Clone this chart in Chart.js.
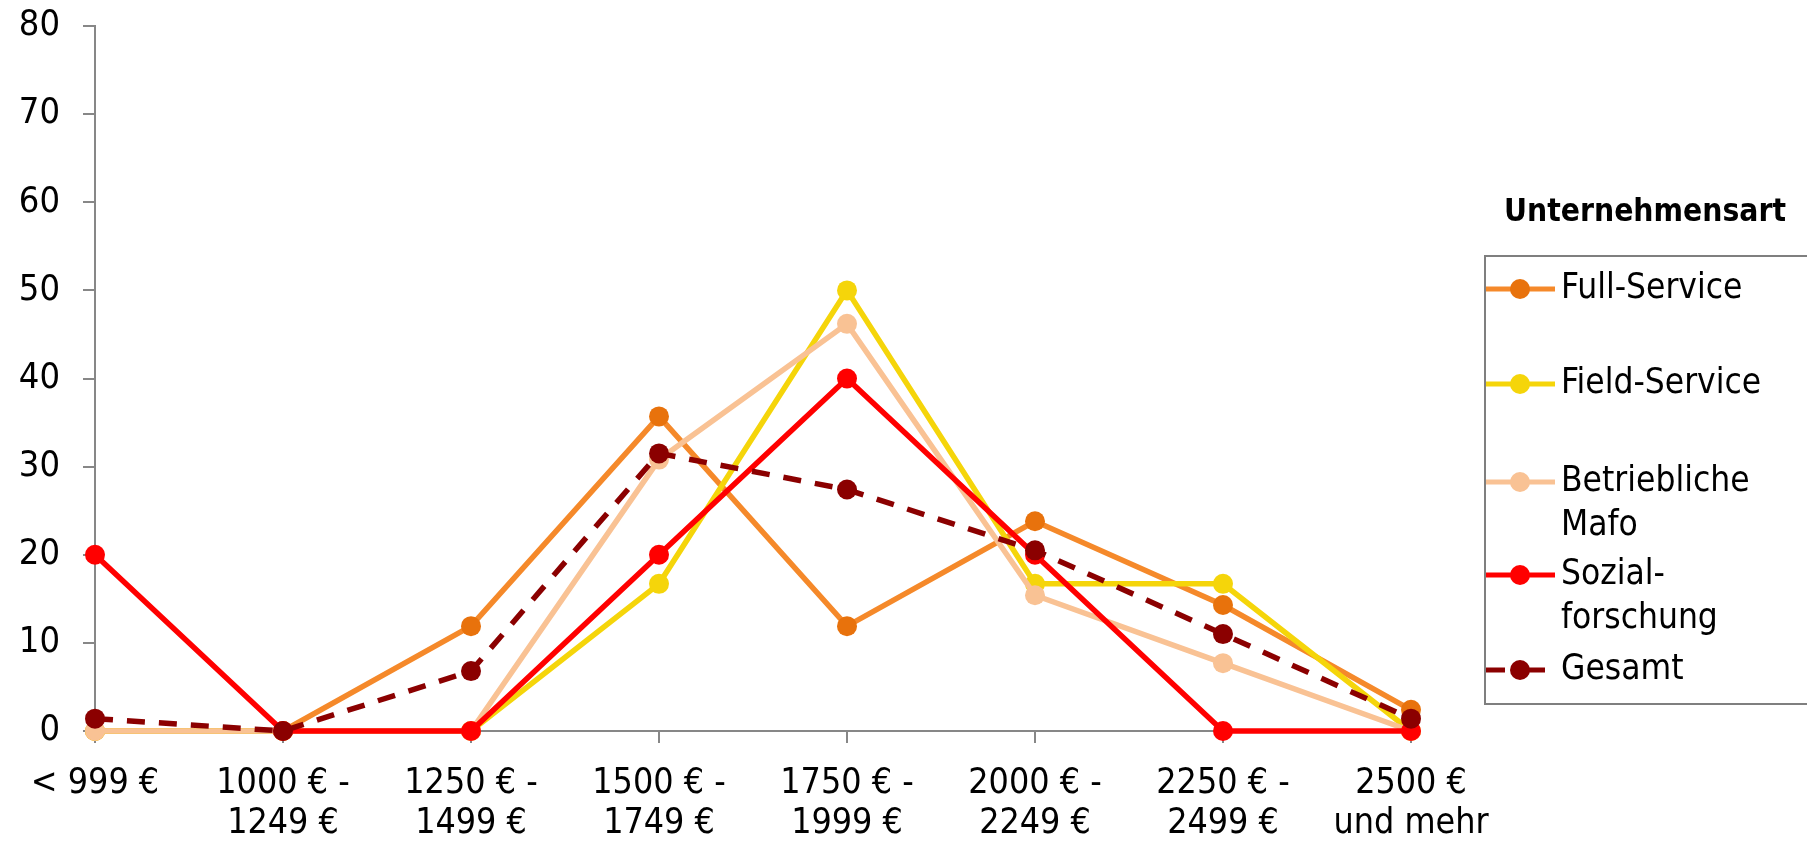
<!DOCTYPE html>
<html>
<head>
<meta charset="utf-8">
<script src="https://cdn.jsdelivr.net/npm/chart.js@4/dist/chart.umd.min.js"></script>
<style>
  html, body { margin: 0; padding: 0; background: #fff; }
  #c { display: block; }
</style>
</head>
<body>
<canvas id="c" width="1807" height="842"></canvas>
<script>
// Income brackets (x axis)
const categories = [
  ["< 999 €"],
  ["1000 € -", "1249 €"],
  ["1250 € -", "1499 €"],
  ["1500 € -", "1749 €"],
  ["1750 € -", "1999 €"],
  ["2000 € -", "2249 €"],
  ["2250 € -", "2499 €"],
  ["2500 €", "und mehr"]
];

// Share of respondents per bracket, in percent
const fullService      = [0, 0, 11.9, 35.7, 11.9, 23.8, 14.3, 2.4];
const fieldService     = [0, 0, 0, 16.7, 50.0, 16.7, 16.7, 0];
const betrieblicheMafo = [0, 0, 0, 30.8, 46.2, 15.4, 7.7, 0];
const sozialforschung  = [20, 0, 0, 20, 40, 20, 0, 0];
const gesamt           = [1.4, 0, 6.8, 31.5, 27.4, 20.5, 11.0, 1.4];

// Legend
const legendTitle = "Unternehmensart";
const seriesNames = [
  ["Full-Service"],
  ["Field-Service"],
  ["Betriebliche", "Mafo"],
  ["Sozial-", "forschung"],
  ["Gesamt"]
];

// Y axis range
const yMin = 0, yMax = 80, yStep = 10;

const FONT = "'DejaVu Sans Condensed', 'DejaVu Sans', sans-serif";
const AXIS = "#878787";
const LINE_W = 5.5;
const POINT_R = 10;

const styles = [
  { line: "#F5892A", point: "#E8720C", dash: [] },
  { line: "#F5D50A", point: "#F5D50A", dash: [] },
  { line: "#F9C294", point: "#F9C294", dash: [] },
  { line: "#FF0000", point: "#FF0000", dash: [] },
  { line: "#8B0000", point: "#8B0000", dash: [18, 14] }
];
const seriesData = [fullService, fieldService, betrieblicheMafo, sozialforschung, gesamt];

const datasets = seriesData.map((d, i) => ({
  label: seriesNames[i].join(" "),
  data: d,
  borderColor: styles[i].line,
  backgroundColor: styles[i].point,
  pointBackgroundColor: styles[i].point,
  pointBorderColor: styles[i].point,
  pointBorderWidth: 0,
  pointRadius: POINT_R,
  pointHoverRadius: POINT_R,
  borderWidth: LINE_W,
  borderDash: styles[i].dash,
  tension: 0,
  clip: false,
  // later series sit on top
  order: seriesData.length - i
}));

// Boxed legend with title, drawn to the right of the plot
const boxLegend = {
  id: "boxLegend",
  afterDraw(chart) {
    const ctx = chart.ctx;
    ctx.save();
    ctx.fillStyle = "#000";
    ctx.textBaseline = "middle";
    ctx.textAlign = "center";
    ctx.font = "bold 31.5px " + FONT;
    ctx.fillText(legendTitle, 1645, 213);

    ctx.strokeStyle = "#7f7f7f";
    ctx.lineWidth = 2;
    ctx.strokeRect(1485, 256, 340, 448);

    const rows = [289, 384, 482, 575, 670];
    const lh = 44;
    ctx.textAlign = "left";
    ctx.font = "35px " + FONT;
    seriesNames.forEach((lines, i) => {
      const y = rows[i];
      const st = styles[i];
      ctx.save();
      ctx.strokeStyle = st.line;
      ctx.lineWidth = 5;
      ctx.lineCap = "butt";
      if (st.dash.length) {
        ctx.beginPath(); ctx.moveTo(1486, y); ctx.lineTo(1505, y); ctx.stroke();
        ctx.beginPath(); ctx.moveTo(1511, y); ctx.lineTo(1545, y); ctx.stroke();
      } else {
        ctx.beginPath(); ctx.moveTo(1486, y); ctx.lineTo(1555, y); ctx.stroke();
      }
      ctx.fillStyle = st.point;
      ctx.beginPath(); ctx.arc(1520, y, POINT_R, 0, Math.PI * 2); ctx.fill();
      ctx.restore();
      lines.forEach((t, k) => ctx.fillText(t, 1561, y + k * lh));
    });
    ctx.restore();
  }
};

new Chart(document.getElementById("c"), {
  type: "line",
  data: { labels: categories, datasets },
  plugins: [boxLegend],
  options: {
    responsive: false,
    animation: false,
    devicePixelRatio: 1,
    layout: { padding: { top: 26, right: 396, left: 0, bottom: 0 } },
    plugins: { legend: { display: false }, tooltip: { enabled: false } },
    scales: {
      x: {
        offset: false,
        grid: { display: true, drawOnChartArea: false, drawTicks: true, tickLength: 12, color: AXIS, lineWidth: 2 },
        border: { display: true, color: AXIS, width: 2 },
        ticks: {
          color: "#000",
          font: { family: FONT, size: 35.5, lineHeight: 1.15 },
          padding: 20,
          maxRotation: 0,
          minRotation: 0,
          autoSkip: false
        },
        afterFit(s) { s.height = 111; }
      },
      y: {
        min: yMin,
        max: yMax,
        grid: { display: true, drawOnChartArea: false, drawTicks: true, tickLength: 12, color: AXIS, lineWidth: 2 },
        border: { display: true, color: AXIS, width: 2 },
        ticks: {
          stepSize: yStep,
          color: "#000",
          font: { family: FONT, size: 36 },
          padding: 23
        },
        afterFit(s) {
          s.width = 95;
          s.paddingTop = 0;
          s.paddingBottom = 0;
        }
      }
    }
  }
});
</script>
</body>
</html>
